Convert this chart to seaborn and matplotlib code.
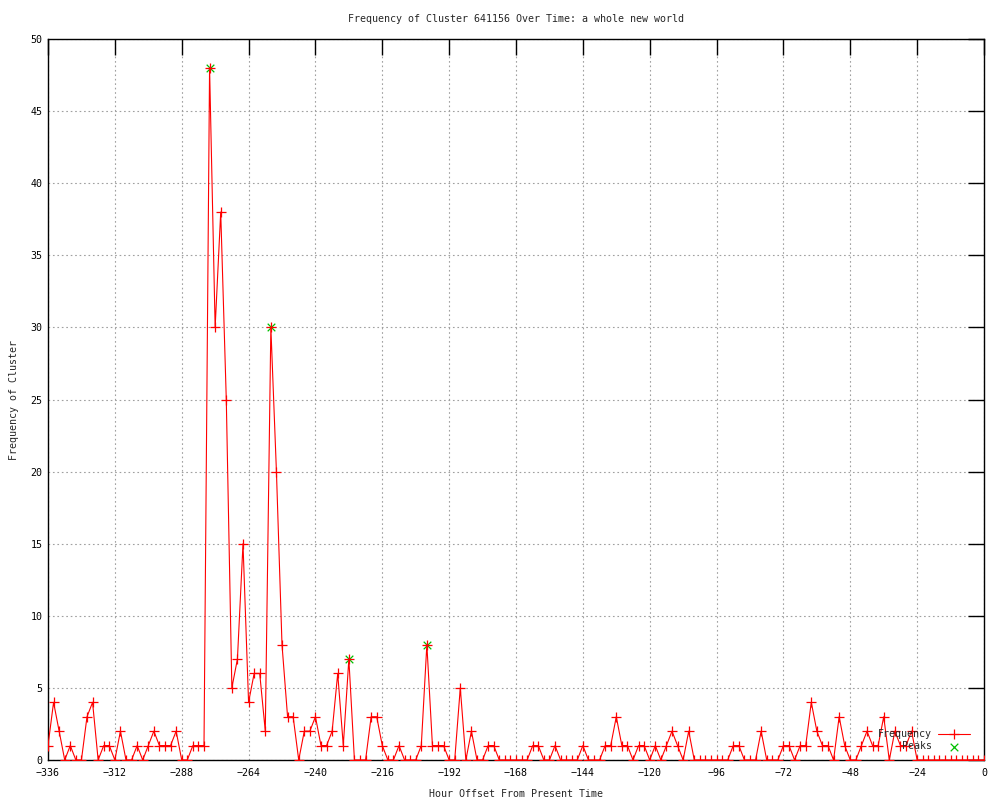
import matplotlib
matplotlib.use("Agg")
import matplotlib.pyplot as plt
import pandas as pd
import seaborn as sns

# hourly bins, 2 hours wide
hours = list(range(-336, 1, 2))
frequency = [
    1, 4, 2, 0, 1, 0, 0, 3, 4, 0,
    1, 1, 0, 2, 0, 0, 1, 0, 1, 2,
    1, 1, 1, 2, 0, 0, 1, 1, 1, 48,
    30, 38, 25, 5, 7, 15, 4, 6, 6, 2,
    30, 20, 8, 3, 3, 0, 2, 2, 3, 1,
    1, 2, 6, 1, 7, 0, 0, 0, 3, 3,
    1, 0, 0, 1, 0, 0, 0, 1, 8, 1,
    1, 1, 0, 0, 5, 0, 2, 0, 0, 1,
    1, 0, 0, 0, 0, 0, 0, 1, 1, 0,
    0, 1, 0, 0, 0, 0, 1, 0, 0, 0,
    1, 1, 3, 1, 1, 0, 1, 1, 0, 1,
    0, 1, 2, 1, 0, 2, 0, 0, 0, 0,
    0, 0, 0, 1, 1, 0, 0, 0, 2, 0,
    0, 0, 1, 1, 0, 1, 1, 4, 2, 1,
    1, 0, 3, 1, 0, 0, 1, 2, 1, 1,
    3, 0, 2, 1, 1, 2, 0, 0, 0, 0,
    0, 0, 0, 0, 0, 0, 0, 0, 0,
]
peak_hours = [-278, -256, -228, -200]
peak_values = [48, 30, 7, 8]

x_ticks = list(range(-336, 1, 24))
y_ticks = list(range(0, 51, 5))

title = "Frequency of Cluster 641156 Over Time: a whole new world"

df = pd.DataFrame({"hour": hours, "freq": frequency})
peaks = pd.DataFrame({"hour": peak_hours, "freq": peak_values})

sns.set_style("white")
plt.rcParams["font.family"] = ["DejaVu Sans Mono"]
plt.rcParams["font.size"] = 7.2

fig = plt.figure(figsize=(10, 8), dpi=100)
ax = fig.add_axes([0.048, 0.05, 0.936, 0.90125])

sns.lineplot(data=df, x="hour", y="freq", ax=ax, color="red", linewidth=0.8,
             marker="+", markersize=7, markeredgewidth=0.9, markeredgecolor="red",
             label="Frequency", zorder=3)
sns.scatterplot(data=peaks, x="hour", y="freq", ax=ax, color="#00c000", marker="x",
                s=30, linewidth=0.9, label="Peaks", zorder=2)

ax.set_xlim(-336, 0)
ax.set_ylim(0, 50)
ax.set_xticks(x_ticks)
ax.set_yticks(y_ticks)
ax.grid(True, color="#a0a0a0", linestyle=(0, (1.5, 2.5)), linewidth=0.8)
ax.tick_params(direction="in", top=True, right=True, length=11.5, width=1,
               labelsize=7.2, colors="black")
ax.tick_params(axis="x", pad=6)
ax.tick_params(axis="y", pad=4)
for s in ax.spines.values():
    s.set_color("black")
    s.set_linewidth(1)

ax.set_xlabel("Hour Offset From Present Time", fontsize=7.2, labelpad=7.5)
ax.set_ylabel("Frequency of Cluster", fontsize=7.2, labelpad=8.5)
ax.set_title(title, fontsize=7.2, pad=12.5)

ax.legend(loc="lower right", bbox_to_anchor=(0.990, 0.005), frameon=False,
          markerfirst=False, fontsize=7.2, handlelength=3.2,
          handletextpad=0.6, labelspacing=0.2, borderpad=0)

fig.savefig("out.png", dpi=100)
